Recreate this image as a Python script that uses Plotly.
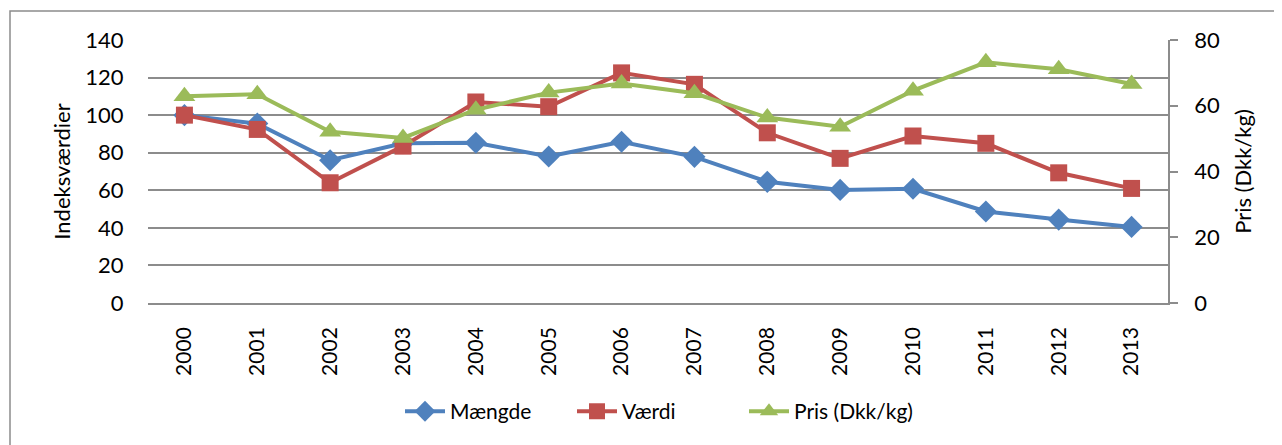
import plotly.graph_objects as go

years = [str(y) for y in range(2000, 2014)]
maengde = [100, 95.5, 76, 85, 85.3, 78, 85.8, 77.8, 64.5, 60.2, 60.8, 48.7, 44.4, 40.5]
vaerdi = [100, 92.4, 64, 83.5, 107, 104.5, 122.5, 116.4, 90.6, 77, 88.9, 85, 69.3, 61]
pris = [62.9, 63.5, 52.1, 50.2, 58.8, 64, 66.8, 63.8, 56.4, 53.6, 64.6, 73.2, 71.1, 66.6]

FONT = "Lato"
blue, red, green = "#4F81BD", "#C0504D", "#9BBB59"
grid = "#8C8C8C"

fig = go.Figure()
fig.add_trace(go.Scatter(x=years, y=maengde, name="Mængde", mode="lines+markers",
                         line=dict(color=blue, width=4),
                         marker=dict(symbol="diamond", size=17, color=blue)))
fig.add_trace(go.Scatter(x=years, y=vaerdi, name="Værdi", mode="lines+markers",
                         line=dict(color=red, width=4),
                         marker=dict(symbol="square", size=17, color=red)))
fig.add_trace(go.Scatter(x=years, y=pris, name="Pris (Dkk/kg)", mode="lines+markers",
                         yaxis="y2",
                         line=dict(color=green, width=4),
                         marker=dict(symbol="triangle-up", size=19, color=green)))

fig.update_layout(
    width=1274, height=437,
    margin=dict(l=140, r=114, t=32, b=142, autoexpand=False),
    paper_bgcolor="white", plot_bgcolor="white",
    font=dict(family=FONT, size=22, color="black"),
    showlegend=True,
    legend=dict(orientation="h", x=0.5, xanchor="center", y=-0.335, yanchor="top",
                font=dict(family=FONT, size=21), tracegroupgap=0,
                entrywidth=117, itemwidth=40),
    xaxis=dict(type="category", tickangle=-90, showgrid=False, zeroline=False,
               showline=True, linecolor=grid, linewidth=1.5,
               ticks="outside", ticklen=14, tickcolor="rgba(0,0,0,0)",
               tickfont=dict(family=FONT, size=21), range=[-0.5, 13.5]),
    yaxis=dict(range=[0, 140], dtick=20, showgrid=True, gridcolor=grid, gridwidth=1.5,
               zeroline=False, showline=False, ticks="outside", ticklen=19,
               tickcolor="rgba(0,0,0,0)",
               title=dict(text="Indeksværdier", font=dict(family=FONT, size=22), standoff=8),
               tickfont=dict(family=FONT, size=22)),
    yaxis2=dict(range=[0, 80], dtick=20, overlaying="y", side="right", showgrid=False,
                zeroline=False, showline=True, linecolor=grid, linewidth=1.5,
                ticks="outside", ticklen=8, tickcolor=grid, tickwidth=1.5,
                ticklabelstandoff=12,
                title=dict(text="Pris (Dkk/kg)", font=dict(family=FONT, size=22), standoff=17),
                tickfont=dict(family=FONT, size=22)),
    shapes=[dict(type="rect", xref="paper", yref="paper",
                 x0=-138/1020, x1=1130/1020, y0=-150/263, y1=292/263,
                 line=dict(color="#8C8C8C", width=1.5), fillcolor="rgba(0,0,0,0)", layer="below")],
)

fig.write_html("out.html")
